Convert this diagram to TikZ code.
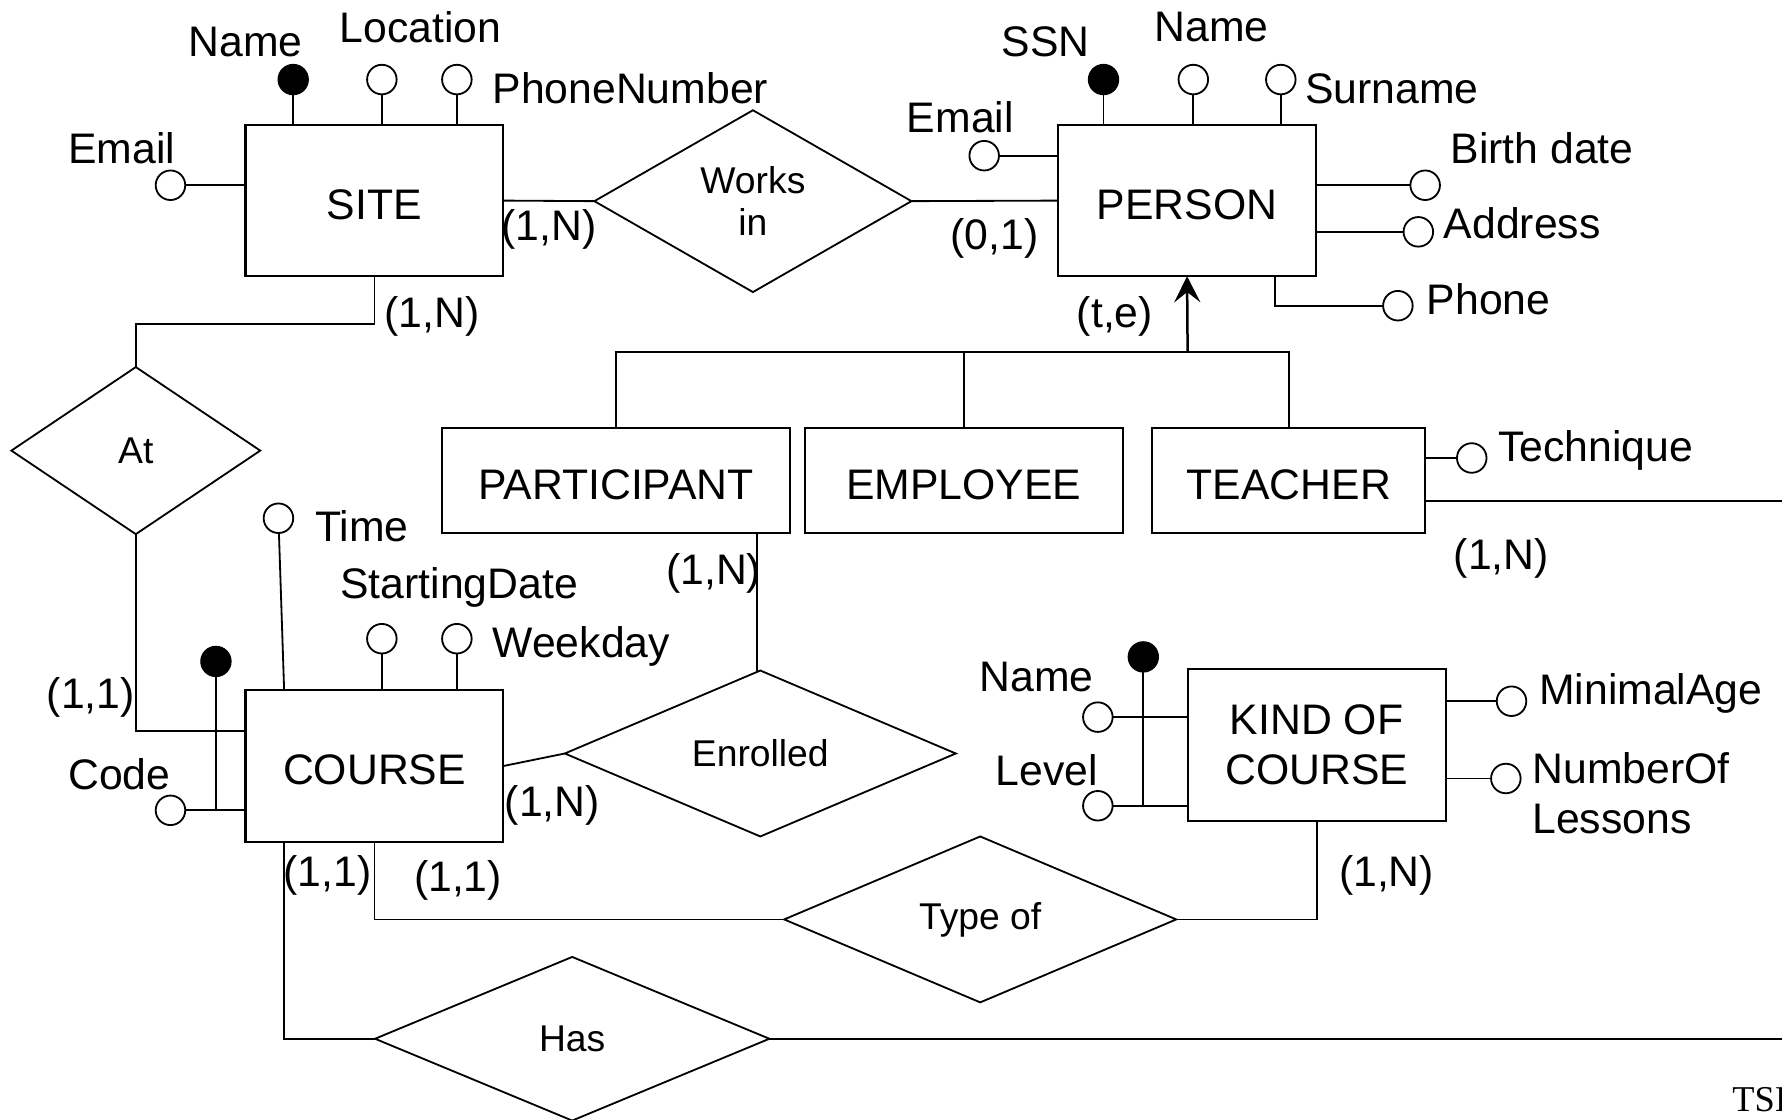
\documentclass[tikz,border=0pt]{standalone}
\usepackage{fontspec}
\setmainfont{Liberation Sans}
\newfontfamily\tsifont{Liberation Serif}
\usetikzlibrary{shapes.geometric,arrows.meta,calc}
\begin{document}
\begin{tikzpicture}[x=0.5pt,y=-0.5pt,
  ent/.style={draw, line width=0.9pt, inner sep=0pt, outer sep=0pt, font=\fontsize{18.8}{22}\selectfont, align=center},
  one/.style={text height=16.5pt, text depth=0pt},
  rel/.style={draw, diamond, line width=0.8pt, inner sep=0pt, outer sep=0pt, font=\fontsize{16.4}{18.5}\selectfont, align=center},
  att/.style={draw, circle, minimum size=13pt, inner sep=0pt, outer sep=0pt, line width=0.8pt, fill=white},
  keyatt/.style={att, fill=black},
  lbl/.style={inner sep=0pt, font=\fontsize{18.8}{22}\selectfont},
  ln/.style={line width=0.8pt},
]
\useasboundingbox (0,0) rectangle (1568,985);
\clip (0,0) rectangle (1568,985);

% entities
\node[ent, one, minimum width=113.5pt, minimum height=66.5pt] (site) at (329.5,176.5) {SITE};
\node[ent, one, minimum width=113.5pt, minimum height=66.5pt] (person) at (1044.5,176.5) {PERSON};
\node[ent, one, minimum width=153pt, minimum height=46pt] (participant) at (542,423) {PARTICIPANT};
\node[ent, one, minimum width=140pt, minimum height=46pt] (employee) at (848,423) {EMPLOYEE};
\node[ent, one, minimum width=120pt, minimum height=46pt] (teacher) at (1134,423) {TEACHER};
\node[ent, one, minimum width=113.5pt, minimum height=67pt] (course) at (329.5,674) {COURSE};
\node[ent, minimum width=113.5pt, minimum height=66.5pt] (kind) at (1158.5,655.5) {KIND OF\\COURSE};

% relationships
\node[rel, minimum width=139.5pt, minimum height=80pt] (worksin) at (662.5,177) {Works\\in};
\node[rel, minimum width=109.5pt, minimum height=73.5pt] (at) at (119.5,396.5) {At};
\node[rel, minimum width=172pt, minimum height=73pt] (enrolled) at (669,663) {Enrolled};
\node[rel, minimum width=172.5pt, minimum height=73pt] (typeof) at (862.5,809) {Type of};
\node[rel, minimum width=173.5pt, minimum height=72pt] (has) at (503.5,914) {Has};

% helper coordinates
\coordinate (atbend) at (0,643);
\coordinate (gen) at (1045,310);
\coordinate (hasend) at (1572,914);
\coordinate (teachend) at (1572,441);

% relationship connectors
\draw[ln] (site.east) -- (worksin.west);
\draw[ln] (worksin.east) -- (person.west);
\draw[ln] (site.south) -- ++(0,42) -| (at.north);
\draw[ln] (at.south) |- (course.west |- atbend);
\draw[ln] (course.east) -- (enrolled.west);
\draw[ln] ($(enrolled.north)+(-3,0)$) -- ($(enrolled.north |- participant.south)+(-3,0)$);
\draw[ln] (course.south) |- (typeof.west);
\draw[ln] (kind.south) |- (typeof.east);
\draw[ln] ($(course.south west)+(34,0)$) |- (has.west);
\draw[ln] (has.east) -- (hasend);
\draw[ln] ($(teacher.east)+(0,18)$) -- (teachend);

% generalization
\draw[line width=1.1pt, -{Stealth[length=11.5pt,width=11.5pt,inset=4.5pt]}] (gen) -- (person.south);
\draw[ln] (participant.north) |- (teacher.north |- gen) -- (teacher.north);
\draw[ln] (employee.north) -- (employee.north |- gen);

% SITE attributes
\node[keyatt] (sitename) at (258,70) {};
\node[att] (siteloc) at (336,70) {};
\node[att] (sitephone) at (402,70) {};
\node[att] (siteemail) at (150,163) {};
\draw[ln] (sitename) -- (sitename |- site.north);
\draw[ln] (siteloc) -- (siteloc |- site.north);
\draw[ln] (sitephone) -- (sitephone |- site.north);
\draw[ln] (siteemail) -- (siteemail -| site.west);

% PERSON attributes
\node[keyatt] (personssn) at (971,70) {};
\node[att] (personname) at (1050,70) {};
\node[att] (personsurname) at (1127,70) {};
\node[att] (personemail) at (866,137) {};
\node[att] (personbirth) at (1254,163) {};
\node[att] (personaddr) at (1248,204) {};
\node[att] (personphone) at (1230,269) {};
\draw[ln] (personssn) -- (personssn |- person.north);
\draw[ln] (personname) -- (personname |- person.north);
\draw[ln] (personsurname) -- (personsurname |- person.north);
\draw[ln] (personemail) -- (personemail -| person.west);
\draw[ln] (personbirth) -- (personbirth -| person.east);
\draw[ln] (personaddr) -- (personaddr -| person.east);
\draw[ln] ($(person.south west)+(191,0)$) |- (personphone);

% TEACHER attribute
\node[att] (teachtech) at (1295,403) {};
\draw[ln] (teachtech) -- (teachtech -| teacher.east);

% COURSE attributes
\node[att] (coursetime) at (245,456) {};
\node[att] (coursestart) at (336,562) {};
\node[att] (courseweek) at (402,562) {};
\node[att] (coursecode) at (150,713) {};
\node[keyatt] (coursekey) at (190,582) {};
\draw[ln] (coursetime) -- ($(course.north west)+(34,0)$);
\draw[ln] (coursestart) -- (coursestart |- course.north);
\draw[ln] (courseweek) -- (courseweek |- course.north);
\draw[ln] (coursecode) -- (coursecode -| course.west);
\draw[ln] (coursekey) -- (coursekey |- coursecode);

% KIND OF COURSE attributes
\node[att] (kindname) at (966,631) {};
\node[att] (kindlevel) at (966,709) {};
\node[keyatt] (kindkey) at (1006,578) {};
\node[att] (kindage) at (1330,617) {};
\node[att] (kindlessons) at (1325,685) {};
\draw[ln] (kindname) -- (kindname -| kind.west);
\draw[ln] (kindlevel) -- (kindlevel -| kind.west);
\draw[ln] (kindkey) -- (kindkey |- kindlevel);
\draw[ln] (kindage) -- (kindage -| kind.east);
\draw[ln] (kindlessons) -- (kindlessons -| kind.east);

% attribute labels
\node[lbl] (l1) at (216,37) {Name};
\node[lbl] (l2) at (370,24) {Location};
\node[lbl, anchor=west] (l3) at (433,78) {PhoneNumber};
\node[lbl] (l4) at (107,130) {Email};
\node[lbl] (l5) at (920,37) {SSN};
\node[lbl] (l6) at (1066,24) {Name};
\node[lbl, anchor=west] (l7) at (1148,78) {Surname};
\node[lbl] (l8) at (845,103) {Email};
\node[lbl] (l9) at (1357,130) {Birth date};
\node[lbl, anchor=west] (l10) at (1270,196) {Address};
\node[lbl, anchor=west] (l11) at (1255,263) {Phone};
\node[lbl, anchor=west] (l12) at (1318,396) {Technique};
\node[lbl, anchor=west] (l13) at (277,463) {Time};
\node[lbl] (l14) at (404,517) {StartingDate};
\node[lbl, anchor=west] (l15) at (433,569) {Weekday};
\node[lbl] (l16) at (105,681) {Code};
\node[lbl] (l17) at (912,596) {Name};
\node[lbl] (l18) at (921,678) {Level};
\node[lbl, anchor=west] (l19) at (1354,610) {MinimalAge};
\node[lbl, anchor=west, align=left] (l20) at (1348,698) {NumberOf\\Lessons};

% cardinality labels
\node[lbl] (c1) at (483,202) {(1,N)};
\node[lbl] (c2) at (875,210) {(0,1)};
\node[lbl] (c3) at (380,278) {(1,N)};
\node[lbl] (c4) at (981,278) {(t,e)};
\node[lbl] (c5) at (1321,491) {(1,N)};
\node[lbl] (c6) at (628,505) {(1,N)};
\node[lbl] (c7) at (80,614) {(1,1)};
\node[lbl] (c8) at (486,709) {(1,N)};
\node[lbl] (c9) at (288,770) {(1,1)};
\node[lbl] (c10) at (403,775) {(1,1)};
\node[lbl] (c11) at (1220,770) {(1,N)};

% footer (cut off at the page edge, as in the reference)
\node[inner sep=0pt, anchor=west, font=\tsifont\fontsize{16}{18}\selectfont] (tsi) at (1524,968) {TSI};
\end{tikzpicture}
\end{document}
